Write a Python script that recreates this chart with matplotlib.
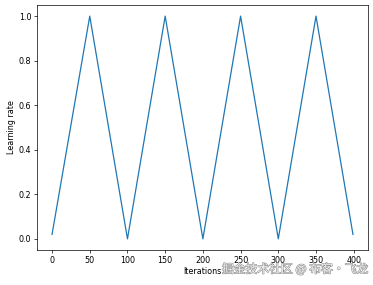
import matplotlib
matplotlib.use("Agg")
import matplotlib.pyplot as plt
import matplotlib.patheffects as pe

# Triangular cyclic learning rate schedule (vertices)
iterations = [0, 50, 100, 150, 200, 250, 300, 350, 399]
learning_rate = [0.02, 1.0, 0.0, 1.0, 0.0, 1.0, 0.0, 1.0, 0.02]

plt.rcParams['font.family'] = ['DejaVu Sans']
plt.rcParams['font.size'] = 5.8

fig = plt.figure(figsize=(3.73, 2.85), dpi=100)
ax = fig.add_axes([0.0992, 0.1228, 0.8874, 0.8597])

ax.plot(iterations, learning_rate, color='#1f77b4', linewidth=0.9)
ax.set_xticks([0, 50, 100, 150, 200, 250, 300, 350, 400])
ax.set_yticks([0.0, 0.2, 0.4, 0.6, 0.8, 1.0])
ax.set_xlabel('Iterations', labelpad=1.5)
ax.set_ylabel('Learning rate', labelpad=2)

for s in ax.spines.values():
    s.set_linewidth(0.5)
ax.tick_params(width=0.5, length=2, pad=2, labelsize=5.8)

# Watermark
fig.text(0.595, 0.055, '掘金技术社区 @ 布客·飞龙', fontsize=8.5,
         family=['Noto Sans CJK SC', 'DejaVu Sans'], color='#f4f4f4',
         va='center', ha='left',
         path_effects=[pe.withStroke(linewidth=0.8, foreground='#8a8a8a')])

fig.savefig('out.png', dpi=100)
